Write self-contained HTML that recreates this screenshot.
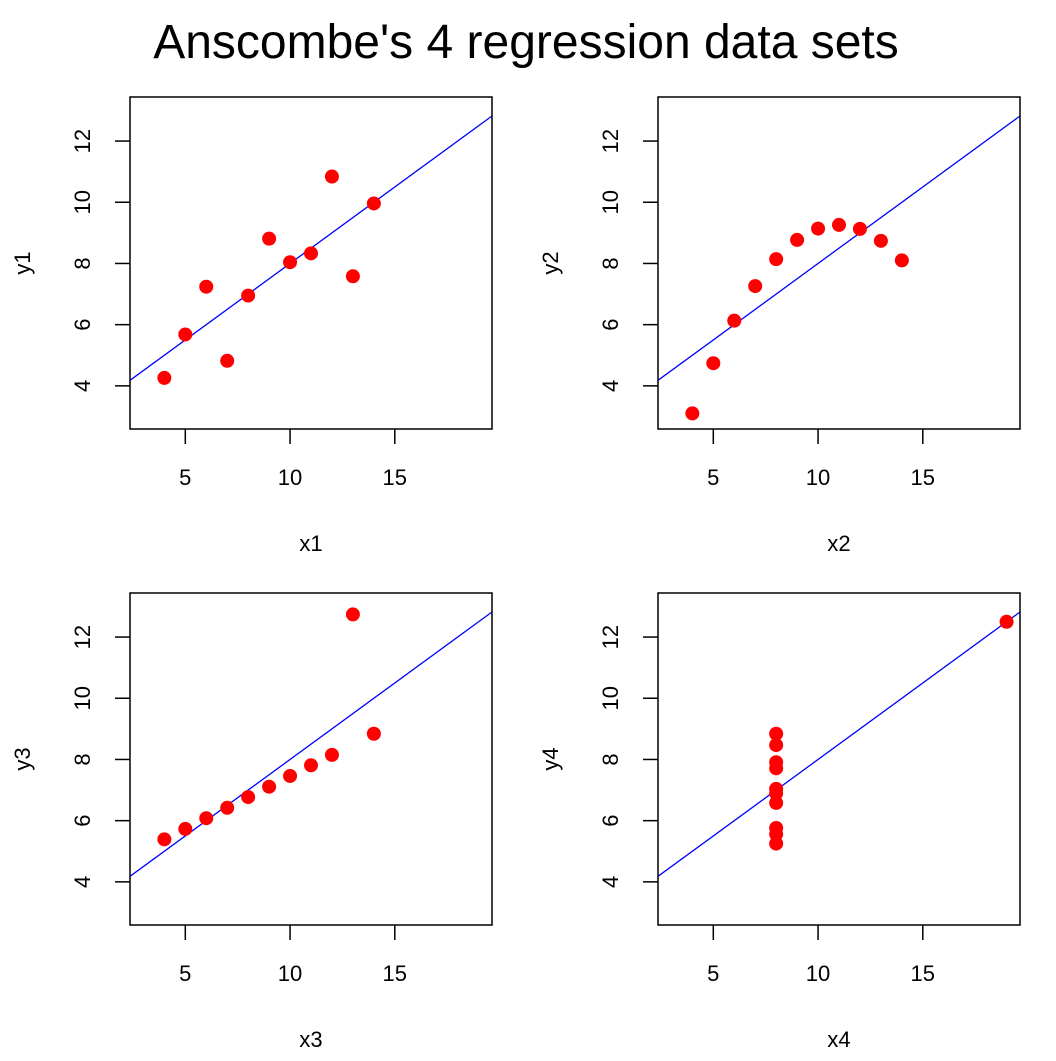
<!DOCTYPE html>
<html><head><meta charset="utf-8"><style>
html,body{margin:0;padding:0;background:#fff;}
svg text{font-family:"Liberation Sans",Arial,sans-serif;fill:#000;}
</style></head><body>
<svg id="c" width="1056" height="1056" xmlns="http://www.w3.org/2000/svg">
<text x="526" y="58" font-size="48" text-anchor="middle">Anscombe's 4 regression data sets</text>
</svg>
<script>
const x1 = [10,8,13,9,11,14,6,4,12,7,5];
const y1 = [8.04,6.95,7.58,8.81,8.33,9.96,7.24,4.26,10.84,4.82,5.68];
const x2 = [10,8,13,9,11,14,6,4,12,7,5];
const y2 = [9.14,8.14,8.74,8.77,9.26,8.10,6.13,3.10,9.13,7.26,4.74];
const x3 = [10,8,13,9,11,14,6,4,12,7,5];
const y3 = [7.46,6.77,12.74,7.11,7.81,8.84,6.08,5.39,8.15,6.42,5.73];
const x4 = [8,8,8,8,8,8,8,19,8,8,8];
const y4 = [6.58,5.76,7.71,8.84,8.47,7.04,5.25,12.50,5.56,7.91,6.89];
const xTicks = [5,10,15];
const yTicks = [4,6,8,10,12];
const intercept = 3.0, slope = 0.5;
const XMIN = 2.36, XMAX = 19.64, YMIN = 2.59, YMAX = 13.44;

const svg = document.getElementById('c');
const NS = 'http://www.w3.org/2000/svg';
function mk(tag, attrs, parent){
  const e = document.createElementNS(NS, tag);
  for (const k in attrs) e.setAttribute(k, attrs[k]);
  (parent||svg).appendChild(e); return e;
}
const panels = [
  {xs:x1, ys:y1, xl:'x1', yl:'y1', ox:0, oy:0},
  {xs:x2, ys:y2, xl:'x2', yl:'y2', ox:528, oy:0},
  {xs:x3, ys:y3, xl:'x3', yl:'y3', ox:0, oy:496},
  {xs:x4, ys:y4, xl:'x4', yl:'y4', ox:528, oy:496}
];
panels.forEach((p, i) => {
  const L = 130 + p.ox, R = 492 + p.ox, T = 97 + p.oy, B = 429 + p.oy;
  const sx = v => L + (v - XMIN) / (XMAX - XMIN) * (R - L);
  const sy = v => B - (v - YMIN) / (YMAX - YMIN) * (B - T);
  const g = mk('g', {});
  
  
  const clipId = 'clip' + i;
  const cp = mk('clipPath', {id: clipId}, g);
  mk('rect', {x: L, y: T, width: R-L, height: B-T}, cp);
  const ln = mk('line', {x1: sx(XMIN), y1: sy(intercept + slope*XMIN), x2: sx(XMAX), y2: sy(intercept + slope*XMAX), stroke: '#0000ff', 'stroke-width': 1.3, 'clip-path': 'url(#' + clipId + ')'}, g);
  
  
  p.xs.forEach((xv, j) => {
    const c = mk('circle', {cx: sx(xv), cy: sy(p.ys[j]), r: 7, fill: '#ff0000'}, g);
    
    
  });
  const box = mk('rect', {x: L, y: T, width: R-L, height: B-T, fill: 'none', stroke: '#000', 'stroke-width': 1.5}, g);
  
  
  xTicks.forEach(t => {
    const tk = mk('line', {x1: sx(t), x2: sx(t), y1: B, y2: B+15, stroke: '#000', 'stroke-width': 1.5}, g);
    
    
    const tx = mk('text', {x: sx(t), y: B+56, 'font-size': 22, 'text-anchor': 'middle'}, g);
    tx.textContent = t;
    
    
  });
  yTicks.forEach(t => {
    const tk = mk('line', {x1: L-15, x2: L, y1: sy(t), y2: sy(t), stroke: '#000', 'stroke-width': 1.5}, g);
    
    
    const xx = L - 40, yy = sy(t);
    const tx = mk('text', {x: xx, y: yy, 'font-size': 22, 'text-anchor': 'middle', transform: 'rotate(-90 ' + xx + ' ' + yy + ')'}, g);
    tx.textContent = t;
    
    
  });
  const xt = mk('text', {x: (L+R)/2, y: 551 + p.oy, 'font-size': 22, 'text-anchor': 'middle'}, g);
  xt.textContent = p.xl;
  
  
  const ax = 30 + p.ox, ay = (T+B)/2;
  const yt = mk('text', {x: ax, y: ay, 'font-size': 22, 'text-anchor': 'middle', transform: 'rotate(-90 ' + ax + ' ' + ay + ')'}, g);
  yt.textContent = p.yl;
  
  
});
</script>
</body></html>
